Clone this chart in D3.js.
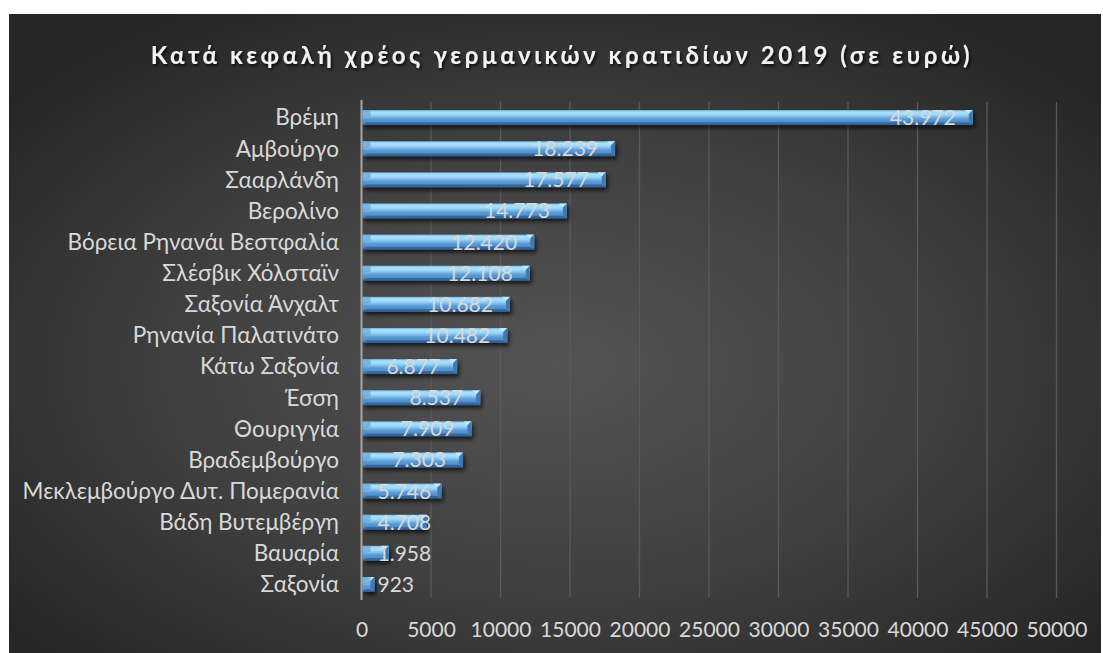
<!DOCTYPE html>
<html><head><meta charset="utf-8">
<script src="https://cdn.jsdelivr.net/npm/d3@7"></script>
<style>
html,body{margin:0;padding:0;background:#fff;}
svg text{font-family:Lato,"Open Sans",sans-serif;}
</style></head>
<body>
<svg id="chart" width="1103" height="653"></svg>
<script>
const categories = ["Βρέμη","Αμβούργο","Σααρλάνδη","Βερολίνο","Βόρεια Ρηνανάι Βεστφαλία","Σλέσβικ Χόλσταϊν","Σαξονία Άνχαλτ","Ρηνανία Παλατινάτο","Κάτω Σαξονία","Έσση","Θουριγγία","Βραδεμβούργο","Μεκλεμβούργο Δυτ. Πομερανία","Βάδη Βυτεμβέργη","Βαυαρία","Σαξονία"];
const values = [43972,18239,17577,14773,12420,12108,10682,10482,6877,8537,7909,7303,5746,4708,1958,923];
const valueLabels = ["43.972","18.239","17.577","14.773","12.420","12.108","10.682","10.482","6.877","8.537","7.909","7.303","5.746","4.708","1.958","923"];
const tickValues = [0,5000,10000,15000,20000,25000,30000,35000,40000,45000,50000];
const title = "Κατά κεφαλή χρέος γερμανικών κρατιδίων 2019 (σε ευρώ)";

const svg = d3.select("#chart");
const defs = svg.append("defs");

const bg = defs.append("radialGradient").attr("id","bg")
  .attr("cx","50%").attr("cy","55%").attr("r","65%");
bg.append("stop").attr("offset","0%").attr("stop-color","#545454");
bg.append("stop").attr("offset","55%").attr("stop-color","#3f3f3f");
bg.append("stop").attr("offset","100%").attr("stop-color","#262626");

const bar = defs.append("linearGradient").attr("id","bar").attr("x1",0).attr("y1",0).attr("x2",0).attr("y2",1);
[[0,"#6fb3e6"],[0.12,"#a9e0fb"],[0.3,"#9fdaf8"],[0.45,"#7dbdea"],[0.6,"#5b9bd5"],[0.85,"#4f8cc7"],[1,"#2e5d8f"]]
  .forEach(([o,c])=>bar.append("stop").attr("offset",o).attr("stop-color",c));

const sh = defs.append("filter").attr("id","shadow").attr("x","-10%").attr("y","-50%").attr("width","130%").attr("height","250%");
sh.append("feDropShadow").attr("dx",2).attr("dy",3).attr("stdDeviation",2).attr("flood-color","#000").attr("flood-opacity",0.7);

const tsh = defs.append("filter").attr("id","tshadow").attr("x","-5%").attr("y","-50%").attr("width","110%").attr("height","200%");
tsh.append("feDropShadow").attr("dx",1.5).attr("dy",2).attr("stdDeviation",1.5).attr("flood-color","#000").attr("flood-opacity",0.8);

svg.append("rect").attr("x",9).attr("y",14).attr("width",1092).attr("height",639).attr("fill","url(#bg)");

const x = d3.scaleLinear().domain([0,50000]).range([361.5,1056.5]);
const y = d3.scaleBand().domain(categories).range([102,600]).paddingInner(0.52).paddingOuter(0.26);

// gridlines
svg.append("g").selectAll("line").data(tickValues.slice(1)).join("line")
  .attr("x1",d=>x(d)).attr("x2",d=>x(d)).attr("y1",102).attr("y2",598)
  .attr("stroke","#5a5a5a").attr("stroke-width",1.3);

// x axis labels
const xAxis = d3.axisBottom(x).tickValues(tickValues).tickFormat(d3.format("d")).tickSize(0).tickPadding(0);
const gx = svg.append("g").attr("transform","translate(0,622)").call(xAxis);
gx.select(".domain").remove();
gx.selectAll("text").attr("fill","#d9d9d9").attr("font-size","21px").style("font-family","Lato,sans-serif");

// y axis labels
const yAxis = d3.axisLeft(y).tickSize(0).tickPadding(0);
const gy = svg.append("g").attr("transform","translate(339,0)").call(yAxis);
gy.select(".domain").remove();
gy.selectAll("text").attr("fill","#d9d9d9").attr("font-size","22.5px").attr("dy","0.35em").style("font-family","Lato,sans-serif");

// bars
const bh = y.bandwidth();
const gb = svg.append("g");
categories.forEach((c,i)=>{
  const x0 = x(0)+1, x1 = x(values[i]), y0 = y(c);
  const g = gb.append("g");
  g.append("rect").attr("x",x0).attr("y",y0).attr("width",x1-x0).attr("height",bh)
    .attr("fill","url(#bar)").attr("filter","url(#shadow)");
  const bv = Math.min(4, (x1-x0)/2);
  g.append("path").attr("d",`M${x1-bv*2},${y0} L${x1},${y0} L${x1-bv},${y0+bv} Z`).attr("fill","#d6f1ff").attr("opacity",0.8);
  g.append("path").attr("d",`M${x1},${y0} L${x1},${y0+bh} L${x1-bv},${y0+bh-bv} L${x1-bv},${y0+bv} Z`).attr("fill","#3f78b3");
  g.append("path").attr("d",`M${x0},${y0+bh} L${x1},${y0+bh} L${x1-bv},${y0+bh-bv/1.5} L${x0+bv},${y0+bh-bv/1.5} Z`).attr("fill","#2f6295").attr("opacity",0.8);
  g.append("path").attr("d",`M${x0},${y0} L${x0+bv*2},${y0} L${x0+bv*2},${y0+bv*1.5} L${x0},${y0+bh*0.5} Z`).attr("fill","#5a9fd6").attr("opacity",0.6);
});

// axis line
svg.append("line").attr("x1",x(0)).attr("x2",x(0)).attr("y1",100).attr("y2",600)
  .attr("stroke","#a6a6a6").attr("stroke-width",2);

// value labels
const gl = svg.append("g");
categories.forEach((c,i)=>{
  const t = gl.append("text").text(valueLabels[i])
    .attr("y",y(c)+bh/2).attr("dy","0.36em")
    .attr("fill","#d9d9d9").attr("font-size","21px");
  const w = t.node().getComputedTextLength();
  const xs = Math.max(x(values[i]) - 17 - w, x(0)+16);
  t.attr("x",xs);
});

// title
svg.append("text").text(title).attr("x",562).attr("y",64).attr("text-anchor","middle")
  .attr("fill","#f2f2f2").attr("font-size","24px").attr("font-weight","bold")
  .attr("letter-spacing","3.6px").attr("filter","url(#tshadow)");
</script>
</body></html>
